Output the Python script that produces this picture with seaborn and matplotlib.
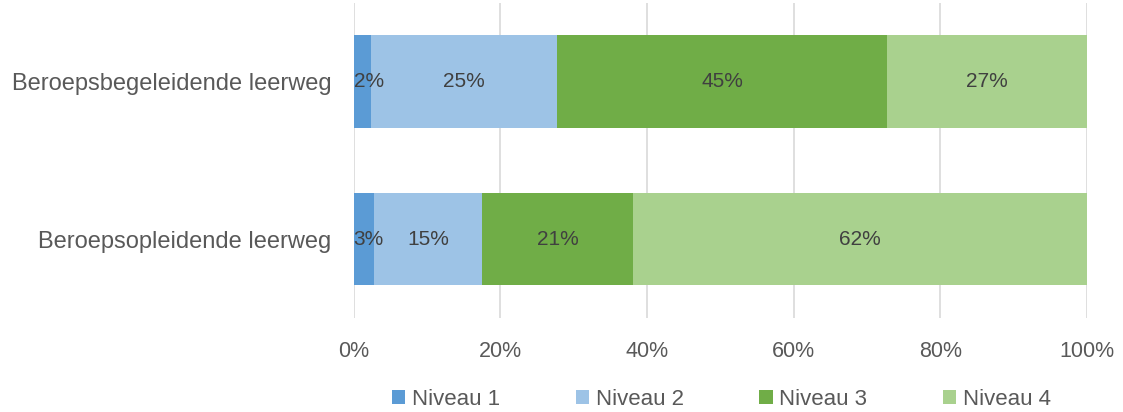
import numpy as np
import pandas as pd
import matplotlib
matplotlib.use("Agg")
import matplotlib.pyplot as plt
import seaborn as sns
from matplotlib.patches import Patch

# Share of students per level, by learning track (percent)
tracks = ["Beroepsbegeleidende leerweg", "Beroepsopleidende leerweg"]
levels = ["Niveau 1", "Niveau 2", "Niveau 3", "Niveau 4"]
niveau_1 = [2.3, 2.8]
niveau_2 = [25.4, 14.7]
niveau_3 = [45.1, 20.6]
niveau_4 = [27.2, 61.9]
colors = ["#5B9BD5", "#9DC3E6", "#70AD47", "#A9D18E"]
x_ticks = [0, 20, 40, 60, 80, 100]

sns.set_theme(style="white")
plt.rcParams["font.family"] = ["Liberation Sans", "DejaVu Sans"]

values = np.array([niveau_1, niveau_2, niveau_3, niveau_4])  # levels x tracks
cum = np.cumsum(values, axis=0)

df = pd.DataFrame({"track": tracks})
for i, lvl in enumerate(levels):
    df[lvl] = cum[i]

fig = plt.figure(figsize=(11.23, 4.12), dpi=100)
ax = fig.add_axes([0.3150, 0.2289, 0.6527, 0.7638])

# Stacked bars: draw cumulative totals from the outermost segment inward
for i in reversed(range(len(levels))):
    sns.barplot(data=df, y="track", x=levels[i], color=colors[i],
                orient="h", width=0.59, ax=ax, edgecolor="none",
                linewidth=0, saturation=1, zorder=2)

# Segment value labels; narrow segments get their label pushed inside the plot
for j in range(len(tracks)):
    for i in range(len(levels)):
        v = values[i, j]
        start = cum[i, j] - v
        if v < 5:
            ax.text(start, j, f"{v:.0f}%", ha="left", va="center",
                    fontsize=15, color="#404040", zorder=3)
        else:
            ax.text(start + v / 2, j, f"{v:.0f}%", ha="center", va="center",
                    fontsize=15, color="#404040", zorder=3)

ax.set_xlim(0, 100)
ax.set_xticks(x_ticks)
ax.set_xticklabels([f"{t}%" for t in x_ticks])
ax.set_xlabel("")
ax.set_ylabel("")
ax.grid(axis="x", color="#D9D9D9", linewidth=1.2, zorder=0)
ax.grid(axis="y", visible=False)
ax.set_axisbelow(True)
for s in ax.spines.values():
    s.set_visible(False)
ax.tick_params(axis="x", length=0, pad=17, labelsize=15.5, labelcolor="#595959")
ax.tick_params(axis="y", length=0, pad=16, labelsize=17, labelcolor="#595959")

handles = [Patch(facecolor=c, edgecolor="none") for c in colors]
fig.legend(handles, levels, loc="center", bbox_to_anchor=(0.6425, 0.03),
           ncol=4, frameon=False, fontsize=16, handlelength=0.6,
           handleheight=0.6, handletextpad=0.3, columnspacing=3.4,
           labelcolor="#595959")

fig.savefig("out.png", dpi=100)
